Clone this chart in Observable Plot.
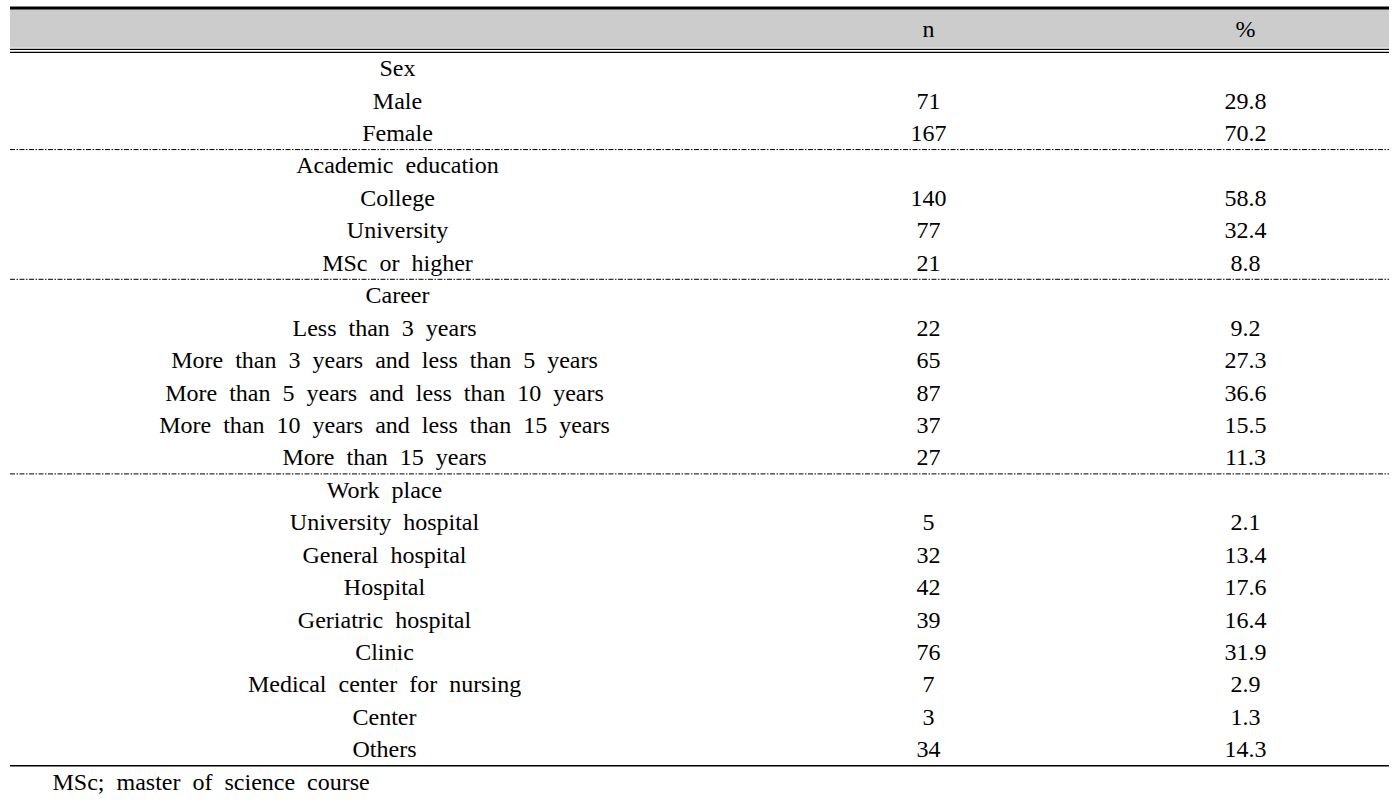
<!DOCTYPE html>
<html>
<head>
<meta charset="utf-8">
<script src="https://cdn.jsdelivr.net/npm/d3@7"></script>
<script src="https://cdn.jsdelivr.net/npm/@observablehq/plot@0.6"></script>
<style>
  html, body { margin: 0; padding: 0; background: #fff; }
  #chart svg text { word-spacing: 6px; font-family: "Liberation Serif", "Times New Roman", serif !important; }
</style>
</head>
<body>
<div id="chart"></div>
<script>
// ---- data ----
const headers = ["n", "%"];
const rowLabels = [
  "Sex", "Male", "Female",
  "Academic education", "College", "University", "MSc or higher",
  "Career", "Less than 3 years", "More than 3 years and less than 5 years",
  "More than 5 years and less than 10 years", "More than 10 years and less than 15 years",
  "More than 15 years",
  "Work place", "University hospital", "General hospital", "Hospital",
  "Geriatric hospital", "Clinic", "Medical center for nursing", "Center", "Others"
];
const nValues = [null, 71, 167, null, 140, 77, 21, null, 22, 65, 87, 37, 27,
  null, 5, 32, 42, 39, 76, 7, 3, 34];
const pctValues = [null, 29.8, 70.2, null, 58.8, 32.4, 8.8, null, 9.2, 27.3, 36.6, 15.5, 11.3,
  null, 2.1, 13.4, 17.6, 16.4, 31.9, 2.9, 1.3, 14.3];
const groupHeaderRows = [0, 3, 7, 13];
const footnote = "MSc; master of science course";

// ---- layout ----
const W = 1399, H = 803;
const xLeft = 10, xRight = 1389;
const xN = 928, xPct = 1245;
const font = "Liberation Serif";
const fs = 24;

const rows = rowLabels.map((label, i) => ({
  i, label, n: nValues[i], pct: pctValues[i],
  lx: i <= 7 ? 397 : 384
}));
const last = rows.length - 1;
const dashedY = groupHeaderRows.slice(1).map(r => r - 0.5);

const chart = Plot.plot({
  width: W, height: H,
  margin: 0,
  x: {domain: [0, W], range: [0, W], axis: null},
  y: {domain: [-2.097, 22.663], range: [0, H], axis: null},
  style: {fontFamily: font, fontSize: fs + "px", color: "#000", background: "#fff"},
  marks: [
    // header band
    Plot.rect([0], {x1: () => xLeft, x2: () => xRight, y1: () => -1.82, y2: () => -0.625, fill: "#cccccc"}),
    Plot.ruleY([-1.866], {x1: xLeft, x2: xRight, stroke: "#000", strokeWidth: 3}),
    Plot.ruleY([-0.59, -0.495], {x1: xLeft, x2: xRight, stroke: "#000", strokeWidth: 1.2}),
    Plot.text(headers, {x: (d, k) => k === 0 ? xN : xPct, y: () => -1.2, text: d => d,
      fontSize: fs, fontFamily: font, fill: "#000"}),
    // dashed separators
    Plot.ruleY(dashedY, {x1: xLeft, x2: xRight, stroke: "#000", strokeWidth: 1, strokeDasharray: "5,1.5,1.5,1.5"}),
    // bottom rule
    Plot.ruleY([last + 0.5], {x1: xLeft, x2: xRight, stroke: "#000", strokeWidth: 1.5}),
    // labels
    Plot.text(rows, {x: "lx", y: "i", text: "label", fontSize: fs, fontFamily: font, fill: "#000"}),
    Plot.text(rows.filter(d => d.n != null), {x: () => xN, y: "i", text: d => String(d.n), fontSize: fs, fontFamily: font, fill: "#000"}),
    Plot.text(rows.filter(d => d.pct != null), {x: () => xPct, y: "i", text: d => d.pct.toFixed(1), fontSize: fs, fontFamily: font, fill: "#000"}),
    // footnote
    Plot.text([footnote], {x: () => 52, y: () => last + 1.0, text: d => d, textAnchor: "start", fontSize: fs, fontFamily: font, fill: "#000"})
  ]
});
document.getElementById("chart").appendChild(chart);
</script>
</body>
</html>
